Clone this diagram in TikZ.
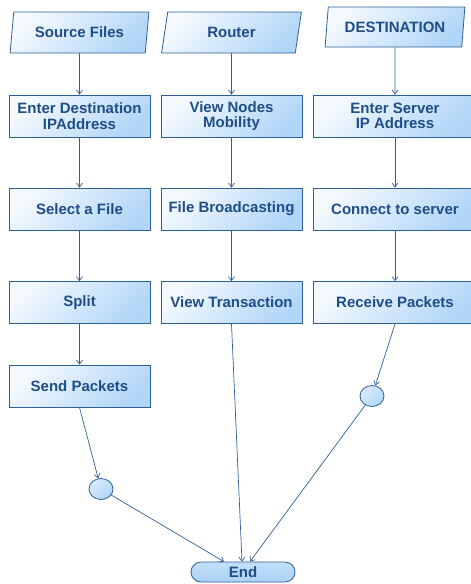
\documentclass[tikz,border=0pt]{standalone}
\usepackage{fontspec}
\setmainfont{Liberation Sans}
\usetikzlibrary{arrows.meta,shapes.geometric,calc}
\definecolor{bord}{HTML}{2E5F95}
\definecolor{txt}{HTML}{1F4E86}
\definecolor{lite}{HTML}{F4F9FE}
\definecolor{deep}{HTML}{B2D6F8}
\definecolor{endfill}{HTML}{AAD2F7}
\begin{document}
\begin{tikzpicture}[x=1pt,y=-1pt,
  every node/.style={font=\fontsize{15}{15.5}\selectfont\bfseries, text=txt},
  boxnode/.style={draw=bord, line width=0.8pt, rectangle, minimum width=141pt, minimum height=42pt, inner sep=1pt, align=center, top color=lite, bottom color=deep, shading angle=45},
  widebox/.style={boxnode, minimum width=164pt},
  para/.style={trapezium, trapezium left angle=79, trapezium right angle=101, trapezium stretches=true, minimum width=140pt, minimum height=41pt, inner sep=1pt, draw=bord, line width=0.8pt, top color=lite, bottom color=deep, shading angle=45},
  dot/.style={ellipse, minimum width=24pt, minimum height=21pt, inner sep=0pt, draw=bord, line width=0.8pt, top color=lite!60!deep, bottom color=deep, shading angle=45},
  endnode/.style={rectangle, rounded corners=10pt, minimum width=104pt, minimum height=20pt, inner sep=0pt, draw=bord, line width=0.8pt, top color=endfill!70!white, bottom color=endfill},
  arr/.style={draw=bord, line width=0.7pt, -{Straight Barb[length=4pt,width=6pt]}}
]
\path[use as bounding box, clip] (0,0) rectangle (471,584);
% column 1
\node[para] (src) at (79.5,32.5) {Source Files};
\node[boxnode] (a2) at (79.5,116) {Enter Destination\\IPAddress};
\node[boxnode] (a3) at (79.5,209) {Select a File};
\node[boxnode] (a4) at (79.5,302.5) {Split};
\node[boxnode] (a5) at (79.5,386) {Send Packets};
% column 2
\node[para] (rtr) at (231.5,32.5) {Router};
\node[boxnode] (b2) at (231.5,116) {View Nodes\\Mobility};
\node[boxnode] (b3) at (231.5,209) {File Broadcasting};
\node[boxnode] (b4) at (231.5,302.5) {View Transaction};
% column 3
\node[para, minimum height=40pt] (dst) at (395,27) {DESTINATION};
\node[widebox] (c2) at (395,116) {Enter Server\\IP Address};
\node[widebox] (c3) at (395,209) {Connect to server};
\node[widebox] (c4) at (395,302.5) {Receive Packets};
% joins and end
\node[dot] (j1) at (101,489) {};
\node[dot] (j2) at (372,396) {};
\node[endnode] (end) at (243,572) {End};
% connectors
\draw[arr] (src) -- (a2);
\draw[arr] (a2) -- (a3);
\draw[arr] (a3) -- (a4);
\draw[arr] (a4) -- (a5);
\draw[arr] (rtr) -- (b2);
\draw[arr] (b2) -- (b3);
\draw[arr] (b3) -- (b4);
\draw[arr] (dst) -- (c2);
\draw[arr] (c2) -- (c3);
\draw[arr] (c3) -- (c4);
\draw[arr] (a5.south) -- (j1);
\draw[arr] (c4.south) -- (j2);
\draw[arr] (j1) -- ($(end.north)+(-19,0)$);
\draw[arr] (b4.south) -- ($(end.north)+(-1,0)$);
\draw[arr] (j2) -- ($(end.north)+(7,0)$);
\end{tikzpicture}
\end{document}
